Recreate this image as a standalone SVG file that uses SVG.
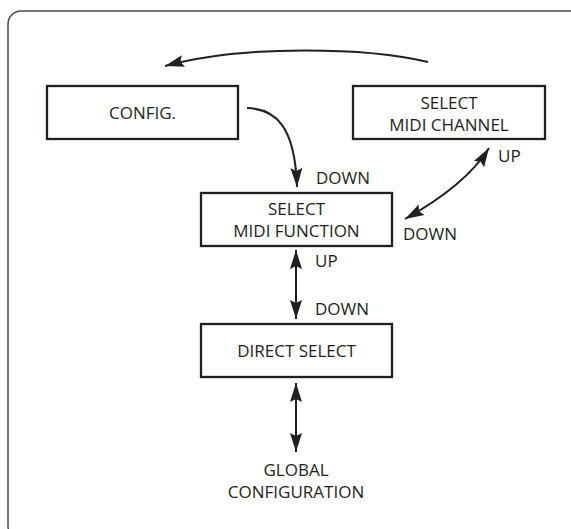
<svg xmlns="http://www.w3.org/2000/svg" width="571" height="529" viewBox="0 0 571 529">
<style>
.box{fill:#fff;stroke:#231f20;stroke-width:2.3}
.lbl{font-family:"Open Sans","Liberation Sans",sans-serif;font-size:17px;fill:#231f20}
.c{text-anchor:middle}
.con{fill:none;stroke:#231f20;stroke-width:2}
</style>
<defs>
<marker id="ah" markerUnits="userSpaceOnUse" markerWidth="20" markerHeight="14" viewBox="0 0 20 14" refX="19" refY="7" orient="auto-start-reverse">
<path d="M0,1 L19,7 L0,13 L3,7 z" fill="#231f20"/>
</marker>
</defs>
<rect width="571" height="529" fill="#fff"/>
<path d="M571 11 H21 A13 13 0 0 0 8 24 V526 A13 13 0 0 0 21 539" fill="none" stroke="#4a4a4a" stroke-width="1.5"/>
<g id="connectors">
<path class="con" d="M428 62 C370 48 245 44 165 66" marker-end="url(#ah)"/>
<path class="con" d="M247 108 C275 109 295 125 297 187" marker-end="url(#ah)"/>
<path class="con" d="M405 219 Q466 185 489 148" marker-start="url(#ah)" marker-end="url(#ah)"/>
<path class="con" d="M296 250 V319" marker-start="url(#ah)" marker-end="url(#ah)"/>
<path class="con" d="M296 383 V452" marker-start="url(#ah)" marker-end="url(#ah)"/>
</g>
<g id="config">
<rect class="box" x="47" y="86" width="191" height="53"/>
<text class="lbl c" x="142.5" y="118.5">CONFIG.</text>
</g>
<g id="select-midi-channel">
<rect class="box" x="353" y="86" width="192" height="53"/>
<text class="lbl c" x="449" y="108.5">SELECT</text>
<text class="lbl c" x="449" y="130.5">MIDI CHANNEL</text>
</g>
<g id="select-midi-function">
<rect class="box" x="201" y="193" width="191" height="53"/>
<text class="lbl c" x="296.5" y="214.5">SELECT</text>
<text class="lbl c" x="296.5" y="236.5">MIDI FUNCTION</text>
</g>
<g id="direct-select">
<rect class="box" x="201" y="324" width="191" height="53"/>
<text class="lbl c" x="296.5" y="357">DIRECT SELECT</text>
</g>
<g id="global-configuration">
<text class="lbl c" x="296" y="475.5">GLOBAL</text>
<text class="lbl c" x="296" y="497.5">CONFIGURATION</text>
</g>
<g id="labels">
<text class="lbl" x="316" y="183.5">DOWN</text>
<text class="lbl" x="498" y="161.5">UP</text>
<text class="lbl" x="403" y="239.5">DOWN</text>
<text class="lbl" x="315" y="267">UP</text>
<text class="lbl" x="315" y="314.5">DOWN</text>
</g>
</svg>
